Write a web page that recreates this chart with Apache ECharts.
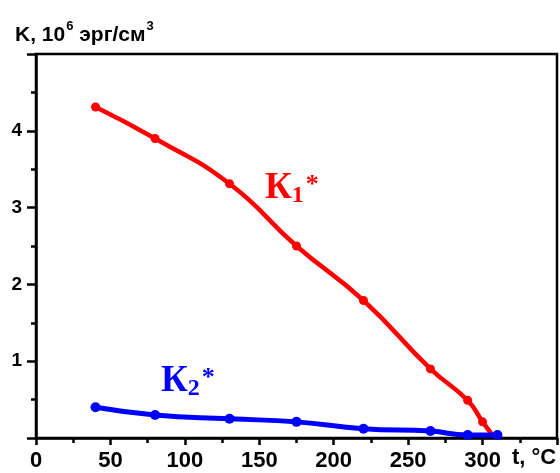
<!DOCTYPE html>
<html>
<head>
<meta charset="utf-8">
<script src="https://cdn.jsdelivr.net/npm/echarts@6/dist/echarts.min.js"></script>
<style>
  html, body { margin: 0; padding: 0; background: #fff; }
  #chart { width: 560px; height: 473px; }
</style>
</head>
<body>
<div id="chart"></div>
<script>
  // K1* (red) and K2* (blue), t in °C, K in 10^6 erg/cm^3
  const tempsK1 = [40, 80, 130, 175, 220, 265, 290, 300, 307];
  const valuesK1 = [4.31, 3.9, 3.31, 2.5, 1.79, 0.9, 0.49, 0.21, 0.03];
  const tempsK2 = [40, 80, 130, 175, 220, 265, 290, 310];
  const valuesK2 = [0.4, 0.3, 0.25, 0.21, 0.12, 0.09, 0.04, 0.04];
  // last red point is only where the curve runs into the axis, no marker there
  const k1MarkerlessEnd = tempsK1.length - 1;

  const xTicks = { min: 0, max: 350, interval: 50 };
  const yTicks = { min: 0, max: 5, interval: 1 };

  const chart = echarts.init(document.getElementById("chart"), null, { renderer: "canvas" });

  const axisBlack = { color: "#000", width: 2.5 };
  const sans = "Liberation Sans, Arial";
  const serif = "Liberation Serif, Times New Roman";

  function pairs(xs, ys) {
    return xs.map((x, i) => [x, ys[i]]);
  }

  function curveLabel(sub, color) {
    return {
      text: `{k|К}{i|${sub}}{a|*}`,
      rich: {
        k: { fontFamily: serif, fontWeight: "bold", fontSize: 37, fill: color, lineHeight: 40, verticalAlign: "middle" },
        i: { fontFamily: serif, fontWeight: "bold", fontSize: 24, fill: color, lineHeight: 40, verticalAlign: "bottom" },
        a: { fontFamily: serif, fontWeight: "bold", fontSize: 26, fill: color, lineHeight: 40, verticalAlign: "top", padding: [4, 0, 0, 2] }
      }
    };
  }

  chart.setOption({
    animation: false,
    backgroundColor: "#fff",
    title: {
      text: "{b|K, 10}{s|6}{b| эрг/см}{s|3}",
      left: 10,
      top: 15,
      textStyle: {
        rich: {
          b: { fontFamily: sans, fontWeight: "bold", fontSize: 21, color: "#000", lineHeight: 26, verticalAlign: "bottom" },
          s: { fontFamily: sans, fontWeight: "bold", fontSize: 13, color: "#000", lineHeight: 26, verticalAlign: "top", padding: [0, 0, 0, 1] }
        }
      }
    },
    grid: {
      left: 36,
      right: 3,
      top: 54,
      bottom: 35,
      show: true,
      borderColor: "#000",
      borderWidth: 2.5
    },
    xAxis: {
      type: "value",
      min: xTicks.min,
      max: xTicks.max,
      interval: xTicks.interval,
      axisLine: { show: true, lineStyle: axisBlack },
      axisTick: { show: true, length: 7, lineStyle: axisBlack },
      minorTick: { show: true, splitNumber: 2, length: 5, lineStyle: axisBlack },
      splitLine: { show: false },
      axisLabel: {
        margin: 12,
        color: "#000",
        fontFamily: sans,
        fontWeight: "bold",
        fontSize: 22,
        formatter: (v) => (v === xTicks.max ? "" : String(v))
      }
    },
    yAxis: {
      type: "value",
      min: yTicks.min,
      max: yTicks.max,
      interval: yTicks.interval,
      axisLine: { show: true, lineStyle: axisBlack },
      axisTick: { show: true, length: 9, lineStyle: axisBlack },
      minorTick: { show: true, splitNumber: 2, length: 5, lineStyle: axisBlack },
      splitLine: { show: false },
      axisLabel: {
        margin: 14,
        color: "#000",
        fontFamily: sans,
        fontWeight: "bold",
        fontSize: 19,
        formatter: (v) => (v === yTicks.min || v === yTicks.max ? "" : String(v))
      }
    },
    series: [
      {
        name: "K1*",
        type: "line",
        smooth: 0.5,
        data: pairs(tempsK1, valuesK1).map((p, i) =>
          i === k1MarkerlessEnd ? { value: p, symbol: "none" } : p
        ),
        symbol: "circle",
        symbolSize: 9,
        itemStyle: { color: "#ff0000" },
        lineStyle: { color: "#ff0000", width: 4.5 },
        z: 3
      },
      {
        name: "K2*",
        type: "line",
        smooth: 0.5,
        data: pairs(tempsK2, valuesK2),
        symbol: "circle",
        symbolSize: 10,
        itemStyle: { color: "#0000ff" },
        lineStyle: { color: "#0000ff", width: 5 },
        z: 4
      }
    ],
    graphic: [
      {
        type: "text",
        left: 512,
        top: 447,
        style: {
          text: "t, °C",
          fill: "#000",
          font: "bold 22px 'Liberation Sans', Arial"
        }
      },
      { type: "text", left: 265, top: 168, style: curveLabel("1", "#ff0000") },
      { type: "text", left: 161, top: 361, style: curveLabel("2", "#0000ff") }
    ]
  });

  window.addEventListener("resize", () => chart.resize());
</script>
</body>
</html>
